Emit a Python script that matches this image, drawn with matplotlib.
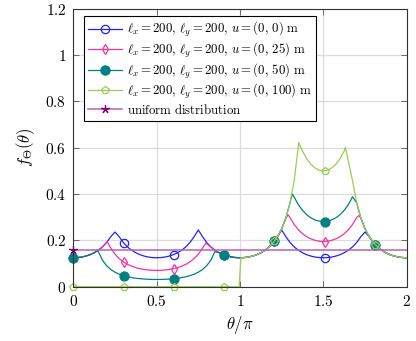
import numpy as np
import matplotlib
matplotlib.use("Agg")
import matplotlib.pyplot as plt
from matplotlib.lines import Line2D

plt.rcParams['mathtext.fontset'] = 'cm'
plt.rcParams['font.family'] = 'serif'
plt.rcParams['font.serif'] = ['DejaVu Serif']

# curves (x in units of pi)
x_blue = np.linspace(0, 2, 81)
y_blue = [0.1250, 0.1258, 0.1281, 0.1322, 0.1382, 0.1465, 0.1575, 0.1719, 0.1910, 0.2162,
          0.2360, 0.2162, 0.1910, 0.1719, 0.1575, 0.1465, 0.1382, 0.1322, 0.1281, 0.1258,
          0.1250, 0.1258, 0.1281, 0.1322, 0.1382, 0.1465, 0.1575, 0.1719, 0.1910, 0.2162,
          0.2450, 0.2162, 0.1910, 0.1719, 0.1575, 0.1465, 0.1382, 0.1322, 0.1281, 0.1258,
          0.1250, 0.1258, 0.1281, 0.1322, 0.1382, 0.1465, 0.1575, 0.1719, 0.1910, 0.2162,
          0.2450, 0.2162, 0.1910, 0.1719, 0.1575, 0.1465, 0.1382, 0.1322, 0.1281, 0.1258,
          0.1250, 0.1258, 0.1281, 0.1322, 0.1382, 0.1465, 0.1575, 0.1719, 0.1910, 0.2162,
          0.2360, 0.2162, 0.1910, 0.1719, 0.1575, 0.1465, 0.1382, 0.1322, 0.1281, 0.1258,
          0.1250]

x_pink = [0, 0.025, 0.05, 0.075, 0.1, 0.125, 0.15, 0.175, 0.2, 0.204,
          0.225, 0.25, 0.275, 0.3, 0.325, 0.35, 0.375, 0.4, 0.425, 0.45, 0.475, 0.5,
          0.525, 0.55, 0.575, 0.6, 0.625, 0.65, 0.675, 0.7, 0.725, 0.75, 0.775, 0.795,
          0.825, 0.85, 0.875, 0.9, 0.925, 0.95, 0.975, 1.0, 1.025, 1.05, 1.075, 1.1,
          1.125, 1.15, 1.175, 1.2, 1.225, 1.25, 1.275, 1.289,
          1.3, 1.325, 1.35, 1.375, 1.4, 1.425, 1.45, 1.475, 1.5, 1.525, 1.55, 1.575,
          1.6, 1.625, 1.65, 1.675, 1.7, 1.713,
          1.725, 1.75, 1.775, 1.8, 1.825, 1.85, 1.875, 1.9, 1.925, 1.95, 1.975, 2.0]
y_pink = [0.1250, 0.1258, 0.1281, 0.1322, 0.1382, 0.1465, 0.1575, 0.1719, 0.1910, 0.1940,
          0.1667, 0.1406, 0.1216, 0.1074, 0.0967, 0.0886, 0.0824, 0.0777, 0.0744, 0.0721, 0.0708, 0.0703,
          0.0708, 0.0721, 0.0744, 0.0777, 0.0824, 0.0886, 0.0967, 0.1074, 0.1216, 0.1406, 0.1667, 0.1880,
          0.1719, 0.1575, 0.1465, 0.1382, 0.1322, 0.1281, 0.1258, 0.1250, 0.1258, 0.1281, 0.1322, 0.1382,
          0.1465, 0.1575, 0.1719, 0.1910, 0.2162, 0.2500, 0.2964, 0.3100,
          0.2984, 0.2687, 0.2460, 0.2288, 0.2159, 0.2066, 0.2002, 0.1965, 0.1953, 0.1965, 0.2002, 0.2066,
          0.2159, 0.2288, 0.2460, 0.2687, 0.2984, 0.3070,
          0.2964, 0.2500, 0.2162, 0.1910, 0.1719, 0.1575, 0.1465, 0.1382, 0.1322, 0.1281, 0.1258, 0.1250]

x_teal = [0, 0.025, 0.05, 0.075, 0.1, 0.125, 0.148,
          0.15, 0.175, 0.2, 0.225, 0.25, 0.275, 0.3, 0.325, 0.35, 0.375, 0.4, 0.425, 0.45, 0.475, 0.5,
          0.525, 0.55, 0.575, 0.6, 0.625, 0.65, 0.675, 0.7, 0.725, 0.75, 0.775, 0.8, 0.825, 0.85,
          0.875, 0.9, 0.925, 0.95, 0.975, 1.0, 1.025, 1.05, 1.075, 1.1, 1.125, 1.15, 1.175, 1.2,
          1.225, 1.25, 1.275, 1.3, 1.313,
          1.325, 1.35, 1.375, 1.4, 1.425, 1.45, 1.475, 1.5, 1.525, 1.55, 1.575, 1.6, 1.625, 1.65, 1.675,
          1.7, 1.725, 1.75, 1.775, 1.8, 1.825, 1.85, 1.875, 1.9, 1.925, 1.95, 1.975, 2.0]
y_teal = [0.1250, 0.1258, 0.1281, 0.1322, 0.1382, 0.1465, 0.1580,
          0.1516, 0.1145, 0.0905, 0.0741, 0.0625, 0.0541, 0.0478, 0.0430, 0.0394, 0.0366, 0.0346, 0.0331, 0.0320, 0.0314, 0.0313,
          0.0314, 0.0320, 0.0331, 0.0346, 0.0366, 0.0394, 0.0430, 0.0478, 0.0541, 0.0625, 0.0741, 0.0905, 0.1145, 0.1520,
          0.1465, 0.1382, 0.1322, 0.1281, 0.1258, 0.1250, 0.1258, 0.1281, 0.1322, 0.1382, 0.1465, 0.1575, 0.1719, 0.1910,
          0.2162, 0.2500, 0.2964, 0.3618, 0.4000,
          0.3869, 0.3543, 0.3295, 0.3110, 0.2975, 0.2883, 0.2830, 0.2813, 0.2830, 0.2883, 0.2975, 0.3110, 0.3295, 0.3543, 0.3880,
          0.3618, 0.2964, 0.2500, 0.2162, 0.1910, 0.1719, 0.1575, 0.1465, 0.1382, 0.1322, 0.1281, 0.1258, 0.1250]

x_green = [0, 0.995, 1.005, 1.025, 1.05, 1.075, 1.1, 1.125, 1.15, 1.175, 1.2, 1.225, 1.25, 1.275,
           1.3, 1.325, 1.35, 1.352,
           1.375, 1.4, 1.425, 1.45, 1.475, 1.5, 1.525, 1.55, 1.575, 1.6, 1.625, 1.632,
           1.675, 1.7, 1.725, 1.75, 1.775, 1.8, 1.825, 1.85, 1.875, 1.9, 1.925, 1.95, 1.975, 2.0]
y_green = [0.0, 0.0, 0.1250, 0.1258, 0.1281, 0.1322, 0.1382, 0.1465, 0.1575, 0.1719, 0.1910, 0.2162, 0.2500, 0.2964,
           0.3618, 0.4579, 0.6065, 0.6220,
           0.5858, 0.5528, 0.5288, 0.5126, 0.5031, 0.5000, 0.5031, 0.5126, 0.5288, 0.5528, 0.5858, 0.6020,
           0.4579, 0.3618, 0.2964, 0.2500, 0.2162, 0.1910, 0.1719, 0.1575, 0.1465, 0.1382, 0.1322, 0.1281, 0.1258, 0.1250]

# marker positions (every 30th sample in the original)
x_marks = [0, 0.3015, 0.603, 0.9045, 1.206, 1.5075, 1.809]
blue_marks = [0.125, 0.190, 0.139, 0.137, 0.197, 0.125, 0.182]
pink_marks = [0.125, 0.107, 0.078, 0.137, 0.197, 0.195, 0.182]
teal_marks = [0.125, 0.047, 0.035, 0.137, 0.197, 0.281, 0.182]
green_marks = [0.0, 0.0, 0.0, 0.0, 0.197, 0.500, 0.182]

uniform = 1 / (2 * np.pi)

labels = [r'$\ell_x = 200,\,\ell_y = 200,\,u = (0,\,0)\ \mathrm{m}$',
          r'$\ell_x = 200,\,\ell_y = 200,\,u = (0,\,25)\ \mathrm{m}$',
          r'$\ell_x = 200,\,\ell_y = 200,\,u = (0,\,50)\ \mathrm{m}$',
          r'$\ell_x = 200,\,\ell_y = 200,\,u = (0,\,100)\ \mathrm{m}$',
          r'$\mathrm{uniform\ distribution}$']

x_ticks = [0, 0.5, 1, 1.5, 2]
x_tick_labels = ['0', '0.5', '1', '1.5', '2']
y_ticks = [0, 0.2, 0.4, 0.6, 0.8, 1.0, 1.2]
y_tick_labels = ['0', '0.2', '0.4', '0.6', '0.8', '1', '1.2']

c_blue = '#2020ff'
c_pink = '#f7329c'
c_teal = '#008080'
c_green = '#9acd55'
c_purple = '#b860b8'
c_star = '#800080'

fig = plt.figure(figsize=(4.16, 3.41), dpi=100)
ax = fig.add_axes([73.3 / 416, 54.3 / 341, 333.4 / 416, 277.9 / 341])

lw = 0.9
ax.plot(x_blue, y_blue, color=c_blue, lw=lw)
ax.plot(x_marks, blue_marks, ls='none', marker='o', ms=6, mfc='none', mec=c_blue, mew=0.9, clip_on=False)
ax.plot(x_pink, y_pink, color=c_pink, lw=lw)
ax.plot(x_marks, pink_marks, ls='none', marker='d', ms=5.5, mfc='none', mec=c_pink, mew=0.9, clip_on=False)
ax.plot(x_teal, y_teal, color=c_teal, lw=lw)
ax.plot(x_marks, teal_marks, ls='none', marker='o', ms=6.5, mfc=c_teal, mec=c_teal, mew=0.9, clip_on=False)
ax.plot(x_green, y_green, color=c_green, lw=lw)
ax.plot(x_marks, green_marks, ls='none', marker='p', ms=6, mfc='none', mec=c_green, mew=0.9, clip_on=False)
ax.plot([0, 2], [uniform, uniform], color=c_purple, lw=1.1)
ax.plot([0], [uniform], ls='none', marker=(5, 2, 0), ms=6, mec=c_star, mew=0.9, clip_on=False)

handles = [
    Line2D([], [], color=c_blue, lw=lw, marker='o', ms=6, mfc='none', mec=c_blue, mew=0.9),
    Line2D([], [], color=c_pink, lw=lw, marker='d', ms=5.5, mfc='none', mec=c_pink, mew=0.9),
    Line2D([], [], color=c_teal, lw=lw, marker='o', ms=6.5, mfc=c_teal, mec=c_teal),
    Line2D([], [], color=c_green, lw=lw, marker='p', ms=6, mfc='none', mec=c_green, mew=0.9),
    Line2D([], [], color=c_purple, lw=1.1, marker=(5, 2, 0), ms=6, mec=c_star, mew=0.9),
]
leg = ax.legend(handles, labels, loc='upper left', bbox_to_anchor=(0.032, 0.975),
                fontsize=9.2, frameon=True, fancybox=False, framealpha=1,
                edgecolor='black', handlelength=2.6, handletextpad=0.4,
                labelspacing=0.12, borderpad=0.35, borderaxespad=0)
leg.get_frame().set_linewidth(0.8)

ax.set_xlim(0, 2)
ax.set_ylim(0, 1.2)
ax.set_xticks(x_ticks)
ax.set_xticklabels(['$' + s + '$' for s in x_tick_labels], fontsize=11)
ax.set_yticks(y_ticks)
ax.set_yticklabels(['$' + s + '$' for s in y_tick_labels], fontsize=11)
ax.grid(True, color='#dcdcdc', lw=0.9)
ax.set_axisbelow(True)
ax.tick_params(direction='in', length=4, width=0.6, color='#555555', top=True, right=True, pad=5)
for sp in ax.spines.values():
    sp.set_linewidth(0.8)
    sp.set_color('#333333')

ax.set_xlabel(r'$\theta/\pi$', fontsize=12, labelpad=4)
ax.set_ylabel(r'$f_\Theta(\theta)$', fontsize=12, labelpad=6)

fig.savefig('out.png', dpi=100)
